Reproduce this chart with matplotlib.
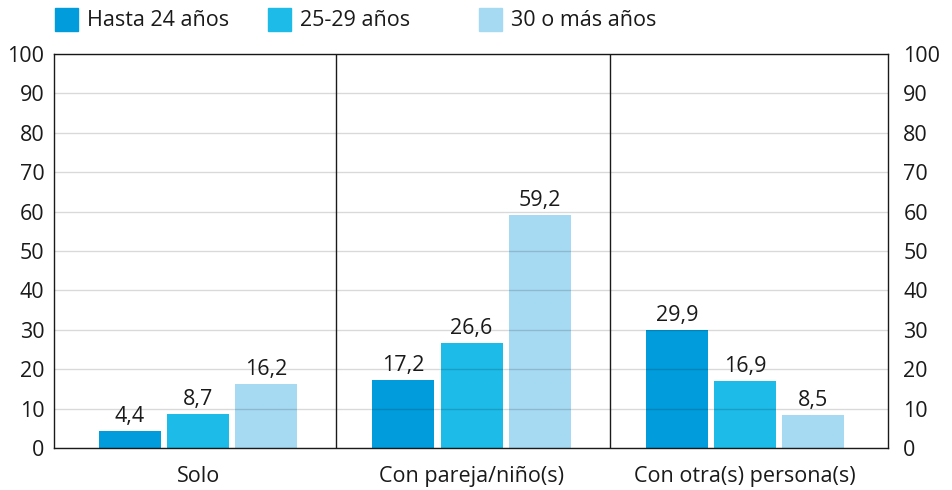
import numpy as np
import matplotlib.pyplot as plt
from matplotlib.patches import Rectangle

plt.rcParams['font.family'] = ['Open Sans', 'DejaVu Sans']

# data
categorias = ["Solo", "Con pareja/niño(s)", "Con otra(s) persona(s)"]
grupos = ["Hasta 24 años", "25-29 años", "30 o más años"]
hasta_24 = [4.4, 17.2, 29.9]
de_25_29 = [8.7, 26.6, 16.9]
mas_30 = [16.2, 59.2, 8.5]
colores = ["#009cdc", "#1dbbe8", "#a6daf3"]

series = [hasta_24, de_25_29, mas_30]
fs = 15.5
txt = "#1a1a1a"

fig = plt.figure(figsize=(9.53, 4.9), dpi=100)
ax = fig.add_axes([54/953, 42/490, 834/953, 394/490])

x = np.arange(len(categorias))
ancho = 0.227
paso = 0.249
for i, (vals, col) in enumerate(zip(series, colores)):
    pos = x + (i - 1) * paso
    ax.bar(pos, vals, width=ancho, color=col, zorder=2)
    for xp, v in zip(pos, vals):
        ax.text(xp, v + 1.0, f"{v:.1f}".replace(".", ","), ha="center", va="bottom",
                fontsize=fs, color=txt)

ax.set_xlim(-0.527, 2.523)
ax.set_ylim(0, 100)
ax.set_yticks(np.arange(0, 101, 10))
ax.set_xticks(x)
ax.set_xticklabels(categorias)
# gridlines drawn over the bars, semi-transparent
ax.grid(axis="y", color="black", alpha=0.15, lw=1, zorder=3)
ax.set_axisbelow(False)
ax.tick_params(length=0, labelsize=fs, colors=txt)
ax.tick_params(axis="x", pad=13)
ax.tick_params(axis="y", pad=7)
for s in ax.spines.values():
    s.set_color(txt)
    s.set_linewidth(1)
for b in [0.505, 1.506]:
    ax.axvline(b, color=txt, lw=1, zorder=4)

# eje derecho con la misma escala
ax2 = ax.twinx()
ax2.set_ylim(ax.get_ylim())
ax2.set_yticks(np.arange(0, 101, 10))
ax2.tick_params(length=0, labelsize=fs, colors=txt, pad=11)
for s in ax2.spines.values():
    s.set_visible(False)

# leyenda
leg_x = [55, 268, 479]
for xl, lab, col in zip(leg_x, grupos, colores):
    fig.patches.append(Rectangle((xl/953, 1 - 31/490), 23/953, 23/490,
                                 color=col, transform=fig.transFigure))
    fig.text((xl + 32)/953, 1 - 21/490, lab, fontsize=fs, va="center",
             color=txt)

fig.savefig("out.png", dpi=100)
